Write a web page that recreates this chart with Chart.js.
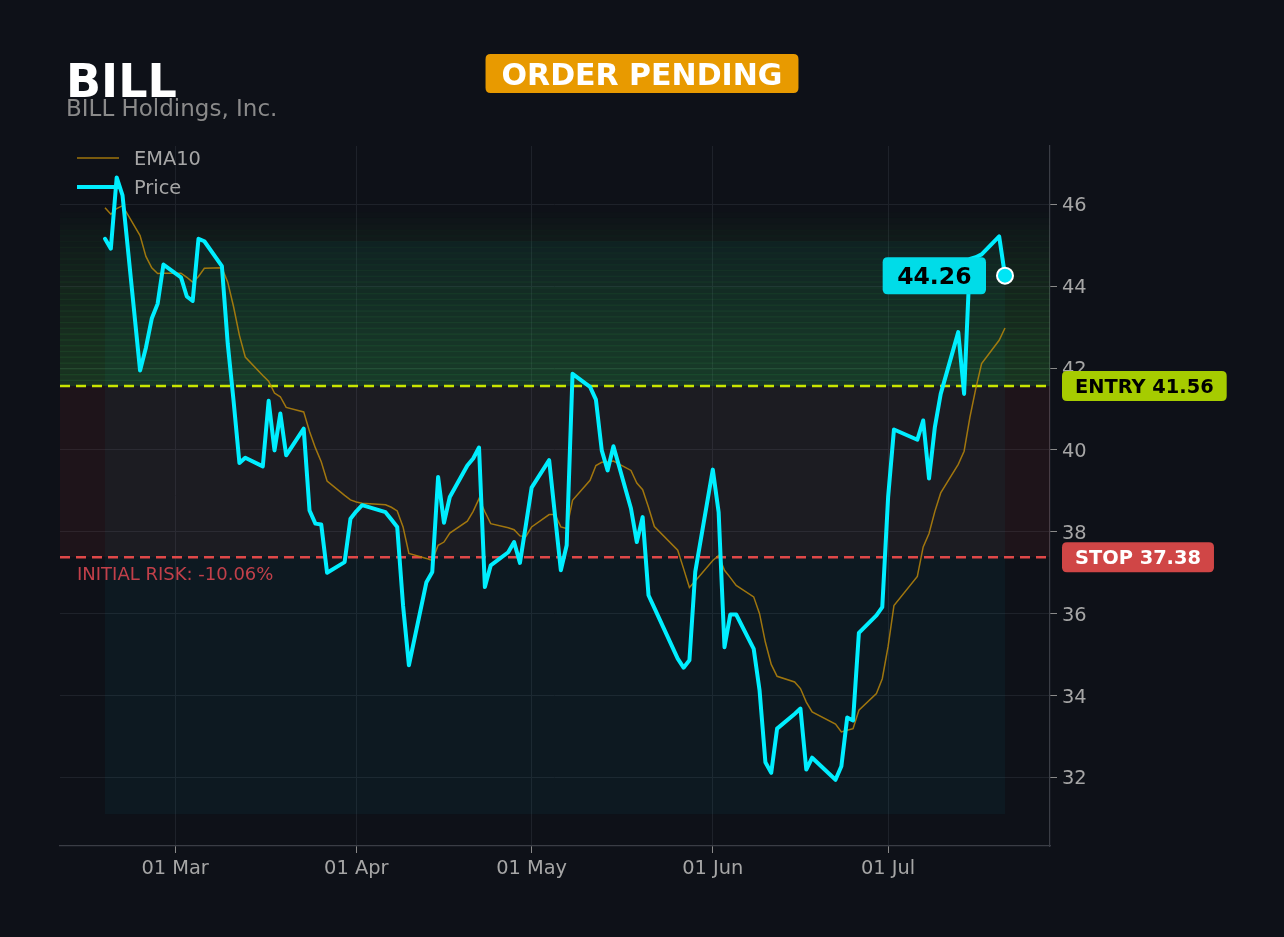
<!DOCTYPE html>
<html>
<head>
<meta charset="utf-8">
<title>BILL</title>
<script src="https://cdn.jsdelivr.net/npm/chart.js@4.4.1/dist/chart.umd.min.js"></script>
<style>
  html, body { margin: 0; padding: 0; background: #0e1118; }
  #wrap { position: relative; width: 1284px; height: 937px; }
</style>
</head>
<body>
<div id="wrap"><canvas id="chart" width="1284" height="937"></canvas></div>
<script>
// Data
const dates = [
  '2026-02-17','2026-02-18','2026-02-19','2026-02-20','2026-02-23','2026-02-24','2026-02-25','2026-02-26','2026-02-27',
  '2026-03-02','2026-03-03','2026-03-04','2026-03-05','2026-03-06','2026-03-09','2026-03-10','2026-03-11','2026-03-12',
  '2026-03-13','2026-03-16','2026-03-17','2026-03-18','2026-03-19','2026-03-20','2026-03-23','2026-03-24','2026-03-25',
  '2026-03-26','2026-03-27','2026-03-30','2026-03-31','2026-04-01','2026-04-02','2026-04-06','2026-04-07','2026-04-08',
  '2026-04-09','2026-04-10','2026-04-13','2026-04-14','2026-04-15','2026-04-16','2026-04-17','2026-04-20','2026-04-21',
  '2026-04-22','2026-04-23','2026-04-24','2026-04-27','2026-04-28','2026-04-29','2026-04-30','2026-05-01','2026-05-04',
  '2026-05-05','2026-05-06','2026-05-07','2026-05-08','2026-05-11','2026-05-12','2026-05-13','2026-05-14','2026-05-15',
  '2026-05-18','2026-05-19','2026-05-20','2026-05-21','2026-05-22','2026-05-26','2026-05-27','2026-05-28','2026-05-29',
  '2026-06-01','2026-06-02','2026-06-03','2026-06-04','2026-06-05','2026-06-08','2026-06-09','2026-06-10','2026-06-11',
  '2026-06-12','2026-06-15','2026-06-16','2026-06-17','2026-06-18','2026-06-22','2026-06-23','2026-06-24','2026-06-25',
  '2026-06-26','2026-06-29','2026-06-30','2026-07-01','2026-07-02','2026-07-06','2026-07-07','2026-07-08','2026-07-09',
  '2026-07-10','2026-07-13','2026-07-14','2026-07-15','2026-07-16','2026-07-17','2026-07-20','2026-07-21'
];
const price = [
  45.16, 44.92, 46.66, 46.22, 41.94, 42.50, 43.21, 43.57, 44.53,
  44.22, 43.75, 43.64, 45.16, 45.10, 44.49, 42.60, 41.20, 39.68,
  39.81, 39.60, 41.20, 39.99, 40.89, 39.87, 40.52, 38.52, 38.20,
  38.18, 37.00, 37.26, 38.32, 38.50, 38.65, 38.48, 38.30, 38.12,
  36.20, 34.74, 36.77, 37.02, 39.34, 38.22, 38.85, 39.62, 39.79,
  40.06, 36.65, 37.18, 37.50, 37.75, 37.24, 38.15, 39.08, 39.75,
  38.40, 37.06, 37.67, 41.86, 41.54, 41.23, 39.99, 39.50, 40.09,
  38.57, 37.75, 38.36, 36.45, 36.14, 34.90, 34.68, 34.86, 37.02,
  39.52, 38.48, 35.18, 35.98, 35.98, 35.14, 34.13, 32.37, 32.11,
  33.19, 33.55, 33.68, 32.19, 32.48, 31.94, 32.27, 33.46, 33.39,
  35.53, 35.96, 36.16, 38.85, 40.50, 40.25, 40.72, 39.30, 40.56,
  41.37, 42.88, 41.37, 44.67, 44.71, 44.78, 45.22, 44.26
];
const ema10 = [
  45.92, 45.76, 45.90, 45.97, 45.24, 44.73, 44.45, 44.31, 44.32,
  44.32, 44.22, 44.10, 44.24, 44.44, 44.45, 44.10, 43.50, 42.80,
  42.27, 41.82, 41.68, 41.39, 41.30, 41.04, 40.93, 40.45, 40.05,
  39.71, 39.24, 38.89, 38.78, 38.73, 38.70, 38.66, 38.60, 38.51,
  38.12, 37.47, 37.35, 37.30, 37.67, 37.75, 37.97, 38.26, 38.50,
  38.81, 38.49, 38.20, 38.10, 38.05, 37.90, 37.88, 38.12, 38.42,
  38.42, 38.12, 38.08, 38.77, 39.26, 39.62, 39.70, 39.71, 39.73,
  39.50, 39.19, 39.03, 38.60, 38.13, 37.55, 37.10, 36.64, 36.80,
  37.30, 37.42, 37.06, 36.88, 36.69, 36.41, 36.00, 35.30, 34.76,
  34.47, 34.33, 34.17, 33.84, 33.60, 33.30, 33.11, 33.15, 33.19,
  33.64, 34.05, 34.41, 35.20, 36.20, 36.91, 37.63, 37.96, 38.50,
  38.95, 39.65, 39.97, 40.80, 41.50, 42.11, 42.68, 42.98
];
const tickDates = ['2026-03-01', '2026-04-01', '2026-05-01', '2026-06-01', '2026-07-01'];
const tickLabels = ['01 Mar', '01 Apr', '01 May', '01 Jun', '01 Jul'];
const yTicks = [32, 34, 36, 38, 40, 42, 44, 46];

const ticker = 'BILL';
const companyName = 'BILL Holdings, Inc.';
const statusText = 'ORDER PENDING';
const entryPrice = 41.56;
const stopPrice = 37.38;
const riskText = 'INITIAL RISK: -10.06%';
const rangeLow = 31.1;
const rangeHigh = 46.65;
const boxHigh = 45.1;
const bandHigh = 45.8;

// Styling
const FONT = '"DejaVu Sans", sans-serif';
const BG = '#0e1118';
const CYAN = '#00eeff';
const EMA_COLOR = 'rgba(184,134,11,0.85)';
const GRID = '#1e222a';
const TICK_TEXT = '#a6a6a6';

// dates -> day numbers from 01 Mar (linear x scale, no date adapter)
const origin = Date.UTC(2026, 2, 1);
function dayOf(s) {
  const p = s.split('-').map(Number);
  return (Date.UTC(p[0], p[1] - 1, p[2]) - origin) / 86400000;
}
const days = dates.map(dayOf);
const tickDays = tickDates.map(dayOf);
const span = days[days.length - 1] - days[0];
const xMin = days[0] - span * 0.05;
const xMax = days[days.length - 1] + span * 0.05;
const yMin = rangeLow - (rangeHigh - rangeLow) * 0.05;
const yMax = rangeHigh + (rangeHigh - rangeLow) * 0.05;

const priceData = days.map((d, i) => ({ x: d, y: price[i] }));
const emaData = days.map((d, i) => ({ x: d, y: ema10[i] }));
const last = price.length - 1;

function roundRect(ctx, x, y, w, h, r) {
  ctx.beginPath();
  ctx.moveTo(x + r, y);
  ctx.lineTo(x + w - r, y);
  ctx.quadraticCurveTo(x + w, y, x + w, y + r);
  ctx.lineTo(x + w, y + h - r);
  ctx.quadraticCurveTo(x + w, y + h, x + w - r, y + h);
  ctx.lineTo(x + r, y + h);
  ctx.quadraticCurveTo(x, y + h, x, y + h - r);
  ctx.lineTo(x, y + r);
  ctx.quadraticCurveTo(x, y, x + r, y);
  ctx.closePath();
}

function badge(ctx, text, x, cy, h, padX, font, fill, color, size, alignRight) {
  ctx.font = font;
  const w = ctx.measureText(text).width + padX * 2;
  const left = alignRight ? x - w : x;
  ctx.fillStyle = fill;
  roundRect(ctx, left, cy - h / 2, w, h, 5);
  ctx.fill();
  ctx.fillStyle = color;
  ctx.textAlign = 'left';
  ctx.textBaseline = 'alphabetic';
  ctx.fillText(text, left + padX, cy + size * 0.729 / 2);
}

const decor = {
  id: 'decor',
  beforeDraw(chart) {
    const ctx = chart.ctx;
    ctx.save();
    ctx.fillStyle = BG;
    ctx.fillRect(0, 0, chart.width, chart.height);
    ctx.restore();
  },
  beforeDatasetsDraw(chart) {
    const { ctx, chartArea: a, scales: { x, y } } = chart;
    const yEntry = y.getPixelForValue(entryPrice);
    const yStop = y.getPixelForValue(stopPrice);
    ctx.save();
    ctx.beginPath();
    ctx.rect(a.left, a.top, a.width, a.height);
    ctx.clip();

    // risk zone between stop and entry
    ctx.fillStyle = 'rgba(205,55,60,0.085)';
    ctx.fillRect(a.left, yEntry, a.width, yStop - yEntry);

    // fading green bands above entry
    const n = 30;
    for (let i = 0; i < n; i++) {
      const v0 = entryPrice + (bandHigh - entryPrice) * i / n;
      const v1 = entryPrice + (bandHigh - entryPrice) * (i + 1) / n;
      const p0 = y.getPixelForValue(v0), p1 = y.getPixelForValue(v1);
      const alpha = 0.25 * Math.pow(1 - i / n, 0.75);
      ctx.fillStyle = 'rgba(60,160,60,' + alpha + ')';
      ctx.fillRect(a.left, p1, a.width, p0 - p1);
      ctx.fillStyle = 'rgba(70,190,80,' + alpha * 0.55 + ')';
      ctx.fillRect(a.left, p1 - 0.6, a.width, 1.3);
    }

    // data range box
    const bx0 = x.getPixelForValue(days[0]);
    const bx1 = x.getPixelForValue(days[last]);
    const by0 = y.getPixelForValue(boxHigh);
    const by1 = y.getPixelForValue(rangeLow);
    ctx.fillStyle = 'rgba(0,229,255,0.04)';
    ctx.fillRect(bx0, by0, bx1 - bx0, by1 - by0);

    // entry & stop lines
    ctx.lineWidth = 2.5;
    ctx.setLineDash([10, 6]);
    ctx.strokeStyle = '#c8e600';
    ctx.beginPath(); ctx.moveTo(a.left, yEntry); ctx.lineTo(a.right, yEntry); ctx.stroke();
    ctx.strokeStyle = '#e04848';
    ctx.beginPath(); ctx.moveTo(a.left, yStop); ctx.lineTo(a.right, yStop); ctx.stroke();
    ctx.setLineDash([]);

    // risk note
    ctx.font = '18px ' + FONT;
    ctx.fillStyle = '#c2404a';
    ctx.textBaseline = 'alphabetic';
    ctx.fillText(riskText, 77, yStop + 23);
    ctx.restore();
  },
  afterDraw(chart) {
    const { ctx, chartArea: a, scales: { x, y } } = chart;
    ctx.save();

    // header
    ctx.textBaseline = 'alphabetic';
    ctx.fillStyle = '#ffffff';
    ctx.font = 'bold 46px ' + FONT;
    ctx.fillText(ticker, 66, 97);
    ctx.fillStyle = '#8a8a8a';
    ctx.font = '23px ' + FONT;
    ctx.fillText(companyName, 66, 116);

    ctx.font = 'bold 30px ' + FONT;
    const sw = ctx.measureText(statusText).width + 32;
    ctx.fillStyle = '#e89a00';
    roundRect(ctx, 642 - sw / 2, 54, sw, 39, 5);
    ctx.fill();
    ctx.fillStyle = '#ffffff';
    ctx.textAlign = 'center';
    ctx.fillText(statusText, 642, 84.5);
    ctx.textAlign = 'left';

    // legend
    ctx.lineCap = 'butt';
    ctx.strokeStyle = EMA_COLOR;
    ctx.lineWidth = 1.5;
    ctx.beginPath(); ctx.moveTo(77, 158); ctx.lineTo(119, 158); ctx.stroke();
    ctx.strokeStyle = CYAN;
    ctx.lineWidth = 4;
    ctx.beginPath(); ctx.moveTo(77, 187); ctx.lineTo(119, 187); ctx.stroke();
    ctx.fillStyle = TICK_TEXT;
    ctx.font = '19.4px ' + FONT;
    ctx.fillText(chart.data.datasets[1].label, 134, 165);
    ctx.fillText(chart.data.datasets[0].label, 134, 194);

    // right-side level badges
    badge(ctx, 'ENTRY ' + entryPrice.toFixed(2), a.right + 12, y.getPixelForValue(entryPrice), 30, 13,
      'bold 19.4px ' + FONT, '#a6cc00', '#000000', 19.4, false);
    badge(ctx, 'STOP ' + stopPrice.toFixed(2), a.right + 12, y.getPixelForValue(stopPrice), 30, 13,
      'bold 19.4px ' + FONT, '#d04646', '#ffffff', 19.4, false);

    // last price badge
    const lx = x.getPixelForValue(days[last]);
    const ly = y.getPixelForValue(price[last]);
    badge(ctx, price[last].toFixed(2), lx - 19, ly, 37, 14.5,
      'bold 23.5px ' + FONT, '#00dce8', '#000000', 23.5, true);
    ctx.restore();
  }
};

const tickFont = { family: FONT, size: 19.4 };

new Chart(document.getElementById('chart').getContext('2d'), {
  type: 'line',
  data: {
    datasets: [
      {
        label: 'Price',
        data: priceData,
        borderColor: CYAN,
        borderWidth: 4,
        borderJoinStyle: 'round',
        borderCapStyle: 'round',
        tension: 0,
        fill: false,
        pointRadius: ctx => (ctx.dataIndex === last ? 8 : 0),
        pointBackgroundColor: '#00e5f5',
        pointBorderColor: '#ffffff',
        pointBorderWidth: 2,
        order: 1
      },
      {
        label: 'EMA10',
        data: emaData,
        borderColor: EMA_COLOR,
        borderWidth: 1.5,
        tension: 0,
        fill: false,
        pointRadius: 0,
        order: 2
      }
    ]
  },
  options: {
    responsive: false,
    animation: false,
    devicePixelRatio: 1,
    layout: { padding: { left: 60, top: 146, right: 164, bottom: 51 } },
    plugins: {
      legend: { display: false },
      tooltip: { enabled: false }
    },
    scales: {
      x: {
        type: 'linear',
        min: xMin,
        max: xMax,
        afterBuildTicks: s => { s.ticks = tickDays.map(v => ({ value: v })); },
        afterFit: s => { s.height = 40; },
        ticks: {
          autoSkip: false,
          maxRotation: 0,
          padding: 4,
          color: TICK_TEXT,
          font: tickFont,
          callback: (v, i) => tickLabels[i]
        },
        grid: { color: GRID, lineWidth: 1, tickColor: '#8a8a8a', tickLength: 7 },
        border: { color: '#3a3d45', width: 1.2 }
      },
      y: {
        position: 'right',
        min: yMin,
        max: yMax,
        afterBuildTicks: s => { s.ticks = yTicks.map(v => ({ value: v })); },
        afterFit: s => { s.width = 70; },
        ticks: {
          padding: 5,
          labelOffset: 2,
          color: TICK_TEXT,
          font: tickFont,
          callback: v => String(v)
        },
        grid: { color: GRID, lineWidth: 1, tickColor: '#8a8a8a', tickLength: 7 },
        border: { color: '#3a3d45', width: 1.2 }
      }
    }
  },
  plugins: [decor]
});
</script>
</body>
</html>
